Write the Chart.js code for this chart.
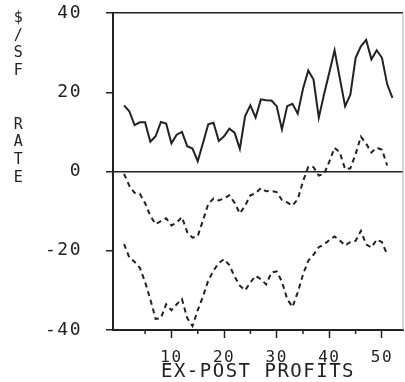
<!DOCTYPE html>
<html>
<head>
<meta charset="utf-8">
<script src="https://cdn.jsdelivr.net/npm/chart.js@4/dist/chart.umd.min.js"></script>
<style>
  html, body { margin: 0; padding: 0; background: #fff; }
  #wrap { width: 405px; height: 382px; position: relative; }
</style>
</head>
<body>
<div id="wrap"><canvas id="rateChart"></canvas></div>
<script>
// period index along the x axis
const periods = [1, 2, 3, 4, 5, 6, 7, 8, 9, 10, 11, 12, 13, 14, 15, 16, 17, 18, 19, 20,
  21, 22, 23, 24, 25, 26, 27, 28, 29, 30, 31, 32, 33, 34, 35, 36, 37, 38, 39, 40,
  41, 42, 43, 44, 45, 46, 47, 48, 49, 50, 51, 52];

// solid line (top)
const solidRate = [16.7, 15.2, 11.7, 12.4, 12.4, 7.5, 8.9, 12.5, 12.1, 7.1,
  9.3, 10.0, 6.4, 5.8, 2.6, 7.2, 11.9, 12.3, 7.7, 8.9,
  10.8, 9.8, 5.7, 14.0, 16.7, 13.6, 18.2, 18.0, 17.9, 16.5,
  10.6, 16.5, 17.1, 14.6, 20.9, 25.5, 23.2, 13.6, 19.5, 25.0,
  30.6, 23.5, 16.5, 19.4, 28.7, 31.6, 33.2, 28.3, 30.6, 28.7,
  22.0, 18.6];

// dashed line (middle)
const dashedUpper = [-0.6, -3.6, -5.4, -5.6, -8.0, -11.2, -13.3, -12.5, -11.8, -13.6,
  -12.9, -11.5, -15.3, -16.7, -16.3, -12.3, -8.2, -6.8, -7.3, -6.8,
  -6.0, -7.9, -10.6, -8.6, -6.0, -5.5, -4.2, -5.0, -4.9, -5.2,
  -7.2, -7.8, -8.6, -7.0, -2.5, 1.2, 1.1, -1.0, -0.6, 2.5,
  6.0, 4.8, 0.6, 0.8, 4.4, 8.8, 7.0, 4.8, 6.0, 5.5,
  1.5];

// dashed line (bottom)
const dashedLower = [-18.3, -21.7, -22.8, -24.3, -27.9, -32.3, -37.2, -37.0, -33.5, -35.0,
  -33.5, -32.2, -37.0, -39.0, -35.0, -31.5, -27.5, -25.0, -23.1, -22.1,
  -23.6, -26.5, -28.8, -30.0, -28.0, -26.3, -27.2, -28.5, -25.5, -25.2,
  -27.8, -32.2, -34.2, -30.5, -26.0, -22.5, -21.0, -19.1, -18.4, -17.3,
  -16.4, -17.4, -18.7, -17.8, -17.5, -15.0, -18.4, -19.2, -17.2, -17.8,
  -21.0];

const yTicks = [-40, -20, 0, 20, 40];
const xMajorTicks = [10, 20, 30, 40, 50];
const xMinorTicks = [5, 15, 25, 35, 45];
const yLabelChars = ["$", "/", "S", "F", "", "", "R", "A", "T", "E"];

const ink = "#222";
const fontName = "'DejaVu Sans Mono', monospace";

function toPoints(values) {
  return values.map(function (v, i) { return { x: periods[i], y: v }; });
}

const spacingPlugin = {
  id: "spacing",
  beforeUpdate: function (chart) { chart.ctx.letterSpacing = "1.5px"; },
  beforeDraw: function (chart) { chart.ctx.letterSpacing = "1.5px"; }
};

const extrasPlugin = {
  id: "extras",
  afterDraw: function (chart) {
    const ctx = chart.ctx;
    const area = chart.chartArea;
    const xs = chart.scales.x;
    ctx.save();
    // short minor ticks under the x axis
    ctx.strokeStyle = ink;
    ctx.lineWidth = 1.5;
    xMinorTicks.forEach(function (v) {
      const px = xs.getPixelForValue(v);
      ctx.beginPath();
      ctx.moveTo(px, area.bottom);
      ctx.lineTo(px, area.bottom + 4);
      ctx.stroke();
    });
    // faint right edge of the frame
    ctx.strokeStyle = "#aaa";
    ctx.lineWidth = 1;
    ctx.beginPath();
    ctx.moveTo(area.right, area.top);
    ctx.lineTo(area.right, area.bottom);
    ctx.stroke();
    // stacked y label
    ctx.fillStyle = ink;
    ctx.font = "15px " + fontName;
    ctx.textAlign = "center";
    ctx.textBaseline = "middle";
    yLabelChars.forEach(function (c, i) {
      if (c) ctx.fillText(c, 19, 18 + i * 17.8);
    });
    ctx.restore();
  }
};

const ctx = document.getElementById("rateChart").getContext("2d");

new Chart(ctx, {
  type: "line",
  data: {
    datasets: [
      {
        label: "Solid",
        data: toPoints(solidRate),
        borderColor: ink,
        borderWidth: 2,
        pointRadius: 0,
        tension: 0,
        fill: false
      },
      {
        label: "Upper dashed",
        data: toPoints(dashedUpper),
        borderColor: ink,
        borderWidth: 2,
        borderDash: [5, 4],
        pointRadius: 0,
        tension: 0,
        fill: false
      },
      {
        label: "Lower dashed",
        data: toPoints(dashedLower),
        borderColor: ink,
        borderWidth: 2,
        borderDash: [5, 4],
        pointRadius: 0,
        tension: 0,
        fill: false
      }
    ]
  },
  options: {
    responsive: true,
    maintainAspectRatio: false,
    animation: false,
    layout: { padding: { top: 13, right: 2, left: 0, bottom: 0 } },
    plugins: {
      legend: { display: false },
      tooltip: { enabled: false }
    },
    scales: {
      x: {
        type: "linear",
        min: -1.1,
        max: 54,
        afterFit: function (s) {
          s.height = 52;
          s.paddingLeft = 0;
          s.paddingRight = 0;
        },
        afterBuildTicks: function (s) {
          s.ticks = xMajorTicks.map(function (v) { return { value: v }; });
        },
        border: { display: true, color: ink, width: 2 },
        grid: {
          drawOnChartArea: false,
          drawTicks: true,
          tickLength: 8,
          tickColor: ink,
          tickWidth: 1.5
        },
        ticks: {
          color: ink,
          padding: 10,
          maxRotation: 0,
          font: { family: fontName, size: 16 }
        },
        title: {
          display: true,
          text: "EX-POST PROFITS",
          color: ink,
          padding: { top: 0, bottom: 0 },
          font: { family: fontName, size: 19, lineHeight: 1 }
        }
      },
      y: {
        min: -40,
        max: 40,
        afterFit: function (s) {
          s.width = 113;
          s.paddingTop = 0;
          s.paddingBottom = 0;
        },
        afterBuildTicks: function (s) {
          s.ticks = yTicks.map(function (v) { return { value: v }; });
        },
        border: { display: true, color: ink, width: 2 },
        grid: {
          drawTicks: true,
          tickLength: 7,
          tickColor: ink,
          lineWidth: 1.5,
          color: function (c) {
            return (c.tick && (c.tick.value === 0 || c.tick.value === 40)) ? ink : "rgba(0,0,0,0)";
          }
        },
        ticks: {
          color: ink,
          padding: 24,
          font: { family: fontName, size: 18 }
        }
      }
    }
  },
  plugins: [spacingPlugin, extrasPlugin]
});
</script>
</body>
</html>
